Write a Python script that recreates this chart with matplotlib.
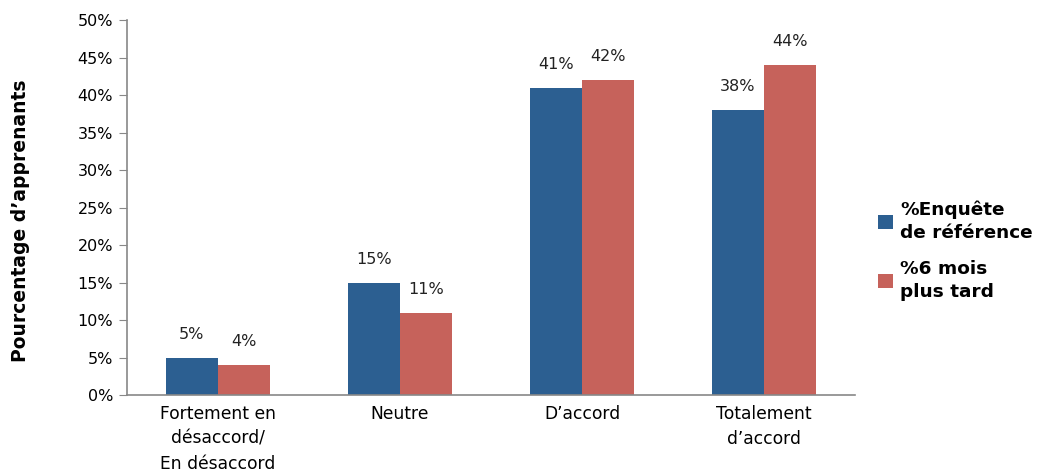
import matplotlib.pyplot as plt
import numpy as np

categories = ["Fortement en\ndésaccord/\nEn désaccord", "Neutre", "D\u2019accord", "Totalement\nd\u2019accord"]
baseline = [5, 15, 41, 38]
six_months = [4, 11, 42, 44]
series_labels = ["%Enquête\nde référence", "%6 mois\nplus tard"]
colors = ["#2C5F91", "#C6625B"]

fig = plt.figure(figsize=(10.38, 4.73), dpi=100)
ax = fig.add_axes([0.1224, 0.1649, 0.7013, 0.7928])

x = np.arange(len(categories))
w = 0.287
bars = []
for i, vals in enumerate([baseline, six_months]):
    offs = (i - 0.5) * w
    b = ax.bar(x + offs, vals, width=w, color=colors[i], label=series_labels[i])
    bars.append(b)
    for xi, v in zip(x + offs, vals):
        ax.text(xi, v + 2.1, f"{v}%", ha="center", va="bottom", fontsize=11.5, color="#222222")

ax.set_xlim(-0.5, 3.5)
ax.set_ylim(0, 50)
ax.set_yticks(range(0, 51, 5))
ax.set_yticklabels([f"{t}%" for t in range(0, 51, 5)], fontsize=11.5)
ax.set_xticks(x)
ax.set_xticklabels(categories, fontsize=12.3, linespacing=1.5)
ax.tick_params(axis="x", length=0, pad=7)
ax.tick_params(axis="y", length=6, color="#888888", pad=4)
for s in ["top", "right"]:
    ax.spines[s].set_visible(False)
for s in ["left", "bottom"]:
    ax.spines[s].set_color("#888888")
    ax.spines[s].set_linewidth(1.2)
ax.set_ylabel("Pourcentage d\u2019apprenants", fontsize=13.5, fontweight="bold")
ax.yaxis.set_label_coords(-0.133, 0.465)

leg = fig.legend(handles=bars, labels=series_labels, loc="center left", bbox_to_anchor=(0.83, 0.47),
                 frameon=False, prop={"size": 13.3, "weight": "bold"}, handlelength=0.8, handleheight=0.8,
                 handletextpad=0.4, labelspacing=1.0, alignment="left")
for t in leg.get_texts():
    t.set_linespacing(1.35)

fig.savefig("out.png", dpi=100)
